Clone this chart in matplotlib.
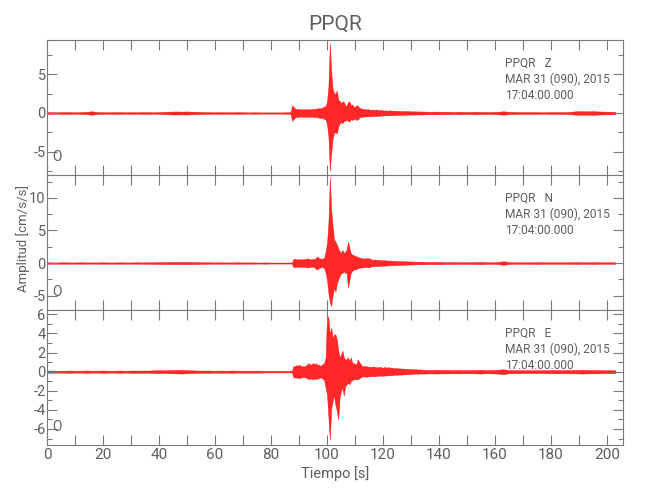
import numpy as np
import matplotlib as mpl

mpl.use('agg')

import matplotlib.pyplot as plt
from matplotlib.ticker import MultipleLocator, FuncFormatter

plt.rcParams['font.family'] = ['Roboto', 'DejaVu Sans']
plt.rcParams['axes.unicode_minus'] = False

station = "PPQR"
date_line = "MAR 31 (090), 2015"
time_line = "17:04:00.000"
components = ["Z", "N", "E"]

# envelope of each trace
# quiet part before the P wave: 0..84 s every 2 s (half amplitude)
z_pre = [.12, .12, .1, .12, .12, .1, .12, .15, .22, .12, .12, .1, .12, .12, .1,
         .12, .1, .12, .12, .1, .12, .15, .18, .2, .18, .2, .16, .15, .12, .12,
         .1, .12, .1, .1, .12, .1, .08, .1, .08, .08, .08, .08, .08]
n_pre = [.12, .1, .1, .12, .1, .1, .12, .1, .1, .1, .12, .1, .1, .12, .1,
         .1, .12, .1, .12, .12, .15, .15, .16, .18, .16, .18, .15, .15, .12, .12,
         .1, .12, .1, .1, .12, .1, .1, .1, .08, .1, .08, .08, .08]
e_pre = [.12, .12, .1, .1, .12, .1, .1, .12, .1, .1, .12, .1, .1, .12, .1,
         .12, .12, .12, .12, .14, .16, .14, .16, .18, .2, .16, .14, .12, .12, .12,
         .1, .12, .1, .12, .1, .1, .1, .1, .1, .08, .08, .08, .08]

# active part: 86.0..134.5 s every 0.5 s (upper / lower envelope)
z_hi = [0.1, 0.1, 0.12, 0.95, 0.8, 0.6, 0.5, 0.55, 0.5, 0.45,
        0.5, 0.45, 0.5, 0.45, 0.5, 0.5, 0.45, 0.5, 0.55, 0.5,
        0.55, 0.6, 0.6, 0.65, 0.6, 0.7, 0.9, 0.8, 1.5, 3.4,
        9.0, 5.3, 3.1, 2.6, 2.4, 2.9, 1.6, 1.6, 1.2, 1.5,
        1.4, 1.0, 0.9, 1.4, 1.5, 1.0, 1.1, 0.8, 0.8, 1.0,
        0.9, 0.7, 0.6, 0.55, 0.5, 0.5, 0.45, 0.5, 0.45, 0.4,
        0.45, 0.4, 0.4, 0.45, 0.4, 0.35, 0.4, 0.35, 0.35, 0.3,
        0.35, 0.3, 0.3, 0.35, 0.3, 0.3, 0.3, 0.28, 0.3, 0.25,
        0.25, 0.28, 0.25, 0.25, 0.25, 0.22, 0.25, 0.22, 0.2, 0.22,
        0.2, 0.22, 0.2, 0.2, 0.2, 0.2, 0.2, 0.18]
z_lo = [-0.1, -0.1, -0.12, -1.0, -0.8, -0.6, -0.5, -0.5, -0.5, -0.45,
        -0.45, -0.5, -0.45, -0.5, -0.45, -0.5, -0.5, -0.45, -0.5, -0.5,
        -0.5, -0.55, -0.6, -0.6, -0.65, -0.6, -0.8, -0.8, -1.5, -3.0,
        -7.4, -5.0, -3.3, -2.5, -2.5, -2.6, -1.8, -1.3, -1.2, -1.3,
        -1.0, -1.0, -0.9, -1.0, -1.1, -0.8, -0.9, -0.8, -0.7, -0.9,
        -0.8, -0.6, -0.5, -0.5, -0.45, -0.45, -0.45, -0.4, -0.45, -0.4,
        -0.4, -0.4, -0.35, -0.4, -0.35, -0.35, -0.35, -0.3, -0.35, -0.3,
        -0.3, -0.3, -0.3, -0.3, -0.28, -0.3, -0.25, -0.25, -0.28, -0.25,
        -0.25, -0.25, -0.22, -0.25, -0.22, -0.22, -0.2, -0.22, -0.2, -0.2,
        -0.2, -0.2, -0.2, -0.18, -0.2, -0.18, -0.2, -0.18]
n_hi = [0.08, 0.08, 0.08, 0.1, 0.6, 0.65, 0.55, 0.6, 0.55, 0.6,
        0.55, 0.6, 0.6, 0.65, 0.75, 0.6, 0.55, 0.6, 0.65, 0.6,
        0.8, 1.0, 0.8, 0.7, 0.65, 0.7, 0.8, 1.8, 3.1, 6.2,
        13.1, 8.2, 5.7, 3.6, 3.3, 2.8, 2.3, 1.8, 1.6, 2.0,
        1.5, 1.8, 2.0, 3.3, 2.3, 1.5, 1.3, 1.2, 1.1, 1.0,
        1.0, 0.8, 0.8, 0.75, 0.7, 0.7, 0.75, 0.7, 0.75, 0.6,
        0.55, 0.5, 0.55, 0.5, 0.45, 0.5, 0.45, 0.45, 0.4, 0.45,
        0.4, 0.4, 0.35, 0.4, 0.35, 0.35, 0.3, 0.35, 0.3, 0.3,
        0.3, 0.3, 0.28, 0.3, 0.25, 0.28, 0.25, 0.25, 0.22, 0.25,
        0.22, 0.22, 0.2, 0.22, 0.2, 0.2, 0.2, 0.2]
n_lo = [-0.08, -0.08, -0.08, -0.1, -0.65, -0.6, -0.6, -0.55, -0.6, -0.55,
        -0.6, -0.55, -0.6, -0.6, -0.7, -0.6, -0.6, -0.55, -0.6, -0.6,
        -0.9, -1.0, -0.8, -0.7, -0.6, -0.65, -0.8, -1.5, -2.6, -4.6,
        -6.0, -6.6, -5.0, -3.8, -4.4, -3.1, -2.5, -2.0, -1.6, -1.5,
        -1.3, -1.5, -1.5, -3.8, -2.6, -1.5, -1.2, -1.0, -1.0, -0.9,
        -0.8, -0.7, -0.7, -0.7, -0.6, -0.6, -0.65, -0.6, -0.7, -0.55,
        -0.5, -0.5, -0.45, -0.5, -0.45, -0.45, -0.4, -0.45, -0.4, -0.4,
        -0.4, -0.35, -0.35, -0.35, -0.3, -0.35, -0.3, -0.3, -0.3, -0.28,
        -0.28, -0.3, -0.25, -0.28, -0.25, -0.25, -0.22, -0.25, -0.22, -0.22,
        -0.2, -0.22, -0.2, -0.2, -0.2, -0.18, -0.2, -0.2]
e_hi = [0.08, 0.08, 0.08, 0.1, 0.6, 0.55, 0.7, 0.6, 0.75, 0.6,
        0.55, 0.6, 0.55, 0.65, 0.8, 0.9, 0.7, 0.8, 0.9, 0.75,
        0.9, 0.7, 0.75, 0.6, 0.7, 0.8, 0.9, 1.5, 6.0, 5.6,
        3.9, 4.6, 3.5, 3.9, 3.9, 3.4, 2.2, 1.5, 1.8, 2.2,
        1.5, 1.3, 1.3, 1.5, 1.1, 1.5, 0.9, 0.9, 0.8, 0.8,
        1.3, 1.0, 0.8, 0.6, 0.6, 0.55, 0.6, 0.5, 0.55, 0.5,
        0.5, 0.55, 0.5, 0.45, 0.5, 0.45, 0.5, 0.45, 0.4, 0.5,
        0.45, 0.4, 0.5, 0.4, 0.45, 0.4, 0.35, 0.4, 0.35, 0.35,
        0.35, 0.3, 0.35, 0.3, 0.3, 0.3, 0.28, 0.3, 0.25, 0.28,
        0.25, 0.25, 0.25, 0.22, 0.25, 0.22, 0.2, 0.22]
e_lo = [-0.08, -0.08, -0.08, -0.1, -0.6, -0.6, -0.65, -0.6, -0.7, -0.6,
        -0.6, -0.55, -0.6, -0.6, -0.75, -0.8, -0.7, -0.75, -0.8, -0.7,
        -0.8, -0.7, -0.7, -0.6, -0.65, -0.75, -0.9, -1.7, -2.4, -4.8,
        -7.1, -3.8, -3.1, -2.4, -3.5, -4.1, -5.0, -2.7, -2.0, -1.7,
        -2.5, -1.5, -1.3, -1.2, -1.3, -1.0, -0.9, -0.8, -0.8, -0.8,
        -0.8, -0.7, -0.6, -0.5, -0.5, -0.5, -0.55, -0.5, -0.5, -0.45,
        -0.5, -0.45, -0.5, -0.45, -0.45, -0.4, -0.45, -0.4, -0.45, -0.4,
        -0.4, -0.4, -0.35, -0.4, -0.35, -0.35, -0.35, -0.3, -0.35, -0.3,
        -0.3, -0.3, -0.3, -0.28, -0.28, -0.25, -0.28, -0.25, -0.25, -0.22,
        -0.22, -0.22, -0.2, -0.22, -0.2, -0.2, -0.2, -0.2]

# coda / noise after the event: 135..203 s every 2 s (half amplitude)
z_post = [.18, .16, .18, .16, .16, .13, .16, .13, .13, .16, .13, .13, .13, .16, .22,
          .15, .13, .12, .12, .12, .12, .1, .12, .12, .12, .12, .16, .22, .24, .22,
          .24, .2, .18, .16, .15]
n_post = [.18, .16, .18, .16, .13, .16, .13, .13, .13, .15, .18, .13, .12, .16, .28,
          .15, .12, .12, .12, .12, .15, .12, .12, .12, .12, .12, .12, .15, .12, .12,
          .15, .12, .12, .12, .12]
e_post = [.2, .18, .2, .18, .18, .16, .18, .16, .16, .18, .2, .16, .18, .2, .25,
          .17, .15, .15, .15, .15, .15, .15, .15, .17, .17, .15, .17, .18, .2, .18,
          .17, .17, .15, .15, .15]

ylims = [(-7.95, 9.36), (-7.2, 13.5), (-7.68, 6.46)]
ymajor = [5, 5, 2]
yminor = [2.5, 2.5, 1]

traces = [(z_pre, z_hi, z_lo, z_post),
          (n_pre, n_hi, n_lo, n_post),
          (e_pre, e_hi, e_lo, e_post)]

grey = '#7a7a7a'
txt = '#5e5e5e'

fig = plt.figure(figsize=(6.5, 5.0), dpi=100)
left, width = 47 / 650, 576 / 650
bottoms = [0.65, 0.38, 0.11]
height = 0.27

for i, (pre, hi, lo, post) in enumerate(traces):
    ax = fig.add_axes([left, bottoms[i], width, height])
    t = np.concatenate([np.arange(len(pre)) * 2.0,
                        86.0 + np.arange(len(hi)) * 0.5,
                        135.0 + np.arange(len(post)) * 2.0])
    upper = np.concatenate([pre, hi, post])
    lower = np.concatenate([-np.array(pre), lo, -np.array(post)])
    ax.fill_between(t, lower, upper, facecolor='#ff1010', edgecolor='#ff0000',
                    lw=0.3, alpha=0.9)

    ax.set_xlim(0, 205.7)
    ax.set_ylim(*ylims[i])
    ax.xaxis.set_major_locator(MultipleLocator(10))
    ax.xaxis.set_major_formatter(FuncFormatter(
        lambda v, p, i=i: '%d' % v if (i == 2 and round(v) % 20 == 0) else ''))
    ax.yaxis.set_major_locator(MultipleLocator(ymajor[i]))
    ax.yaxis.set_minor_locator(MultipleLocator(yminor[i]))
    ax.yaxis.set_major_formatter(FuncFormatter(lambda v, p: '%d' % round(v)))

    ax.tick_params(which='both', direction='in', top=True, right=True,
                   color=grey, labelcolor=txt, width=0.8)
    ax.tick_params(axis='x', length=7, pad=2, labelsize=11)
    ax.tick_params(axis='y', which='major', length=7, pad=1, labelsize=10.5)
    ax.tick_params(axis='y', which='minor', length=3.5)
    for s in ax.spines.values():
        s.set_color(grey)
        s.set_linewidth(0.8)

    ax.text(0.796, 0.876, "%s   %s\n%s\n%s" % (station, components[i], date_line, time_line),
            transform=ax.transAxes, ha='left', va='top', fontsize=8.6,
            color=txt, linespacing=1.3)
    ax.text(0.009, 0.133, "O", transform=ax.transAxes, ha='left', va='center',
            fontsize=10, color=txt)

    if i == 2:
        ax.set_xlabel("Tiempo [s]", color=txt, fontsize=10.5, labelpad=3)

fig.text(23 / 650, 1 - 239 / 500, "Amplitud [cm/s/s]", rotation=90,
         ha='center', va='center', fontsize=9.5, color=txt)
fig.text(0.5154, 0.94, station, ha='center', va='baseline', fontsize=15, color=txt)

fig.savefig('out.png', dpi=100)
